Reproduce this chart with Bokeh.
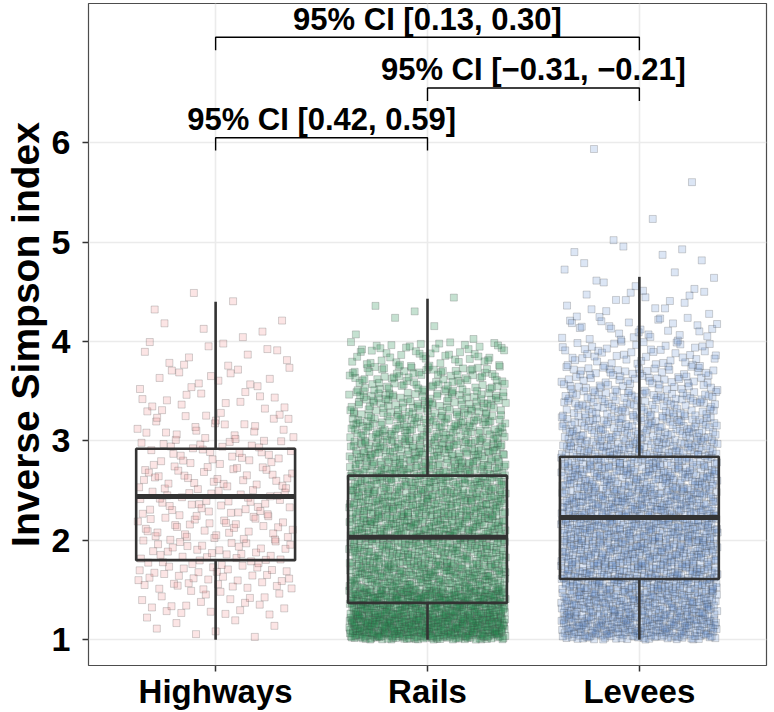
import numpy as np
from bokeh.plotting import figure
from bokeh.models import Range1d, FixedTicker, ColumnDataSource
from bokeh.core.properties import value
from bokeh.embed import file_html
from bokeh.resources import INLINE

# Groups and their positions on the x axis
groups = ["Highways", "Rails", "Levees"]
group_x = [1, 2, 3]

# Box-plot statistics of the inverse Simpson index
box_lower = [1.00, 1.00, 1.00]
box_q1 = [1.80, 1.37, 1.61]
box_median = [2.44, 2.03, 2.23]
box_q3 = [2.92, 2.65, 2.84]
box_upper = [4.40, 4.43, 4.65]

# Number of observations in each 0.25-wide band of the index, from 1.0 upward
band_start = 1.0
band_width = 0.25
highways_counts = [8, 22, 36, 36, 36, 36, 34, 30, 24, 18, 14, 12, 5, 3]
rails_counts = [420, 340, 220, 190, 200, 190, 170, 150, 130, 110, 85, 50, 4, 3]
levees_counts = [230, 210, 200, 200, 200, 190, 170, 150, 125, 100, 75, 50,
                 30, 16, 8, 6, 2, 0, 1, 1]

# Pairwise comparisons shown as brackets
ci_from = [1, 2, 1]
ci_to = [2, 3, 3]
ci_level = [6.05, 6.55, 7.06]
ci_labels = ["95% CI [0.42, 0.59]",
             "95% CI [\u22120.31, \u22120.21]",
             "95% CI [0.13, 0.30]"]

y_ticks = [1, 2, 3, 4, 5, 6]

point_fill = ["#ee7b7b", "#1f8a4c", "#4f80cc"]
point_alpha = [0.2, 0.26, 0.2]
FONT = "Liberation Sans"
JITTER = 0.37
BRACKET_DROP = 0.13
Y_MIN, Y_MAX = 0.74, 7.40


def radical_inverse(n, base):
    q, denom = 0.0, 1.0
    while n:
        n, r = divmod(n, base)
        denom *= base
        q += r / denom
    return q


def band_cloud(center, counts):
    """Spread each band's observations across the band (Halton jitter layout)."""
    xs, ys = [], []
    k = 1
    for i, c in enumerate(counts):
        lo = band_start + i * band_width
        for _ in range(c):
            xs.append(center + (radical_inverse(k, 2) - 0.5) * 2 * JITTER)
            ys.append(lo + radical_inverse(k, 3) * band_width)
            k += 1
    return xs, ys


p = figure(width=774, height=712,
           x_range=Range1d(0.4, 3.6), y_range=Range1d(Y_MIN, Y_MAX),
           output_backend="svg", toolbar_location=None,
           min_border_left=87, min_border_right=8,
           min_border_top=3, min_border_bottom=42)
p.background_fill_color = "white"
p.border_fill_color = "white"
p.outline_line_color = "#4d4d4d"
p.outline_line_width = 1.2

# jittered observations
for gx, counts, col, a in zip(group_x, [highways_counts, rails_counts, levees_counts],
                              point_fill, point_alpha):
    xs, ys = band_cloud(gx, counts)
    p.scatter(xs, ys, marker="square", size=7,
              fill_color=col, fill_alpha=a,
              line_color="#444444", line_alpha=0.23, line_width=1)

# box plots
box = ColumnDataSource(dict(x=group_x, lower=box_lower, q1=box_q1,
                            med=box_median, q3=box_q3, upper=box_upper,
                            left=[x - 0.375 for x in group_x],
                            right=[x + 0.375 for x in group_x]))
p.segment(x0="x", y0="q3", x1="x", y1="upper", source=box,
          line_color="#333333", line_width=2.6)
p.segment(x0="x", y0="lower", x1="x", y1="q1", source=box,
          line_color="#333333", line_width=2.6)
p.vbar(x="x", bottom="q1", top="q3", width=0.75, source=box,
       fill_color=None, line_color="#333333", line_width=2.6)
p.segment(x0="left", y0="med", x1="right", y1="med", source=box,
          line_color="#333333", line_width=5)

# comparison brackets
bx = [[a, a, b, b] for a, b in zip(ci_from, ci_to)]
by = [[h - BRACKET_DROP, h, h, h - BRACKET_DROP] for h in ci_level]
p.multi_line(xs=bx, ys=by, line_color="black", line_width=1.4)
p.text(x=[(a + b) / 2 for a, b in zip(ci_from, ci_to)], y=ci_level, text=ci_labels,
       text_font=value(FONT), text_font_style="bold", text_font_size="31px",
       text_color="black", text_align="center", text_baseline="alphabetic",
       y_offset=-18)

# axes
p.xaxis.ticker = FixedTicker(ticks=group_x)
p.xaxis.major_label_overrides = {x: g for x, g in zip(group_x, groups)}
p.yaxis.ticker = FixedTicker(ticks=y_ticks)
p.yaxis.axis_label = "Inverse Simpson index"
for ax in (p.xaxis, p.yaxis):
    ax.axis_line_color = None
    ax.major_tick_line_color = "#333333"
    ax.major_tick_line_width = 1.5
    ax.major_tick_out = 6
    ax.major_tick_in = 0
    ax.minor_tick_line_color = None
    ax.major_label_text_font = FONT
    ax.major_label_text_font_style = "bold"
    ax.major_label_text_color = "black"
p.xaxis.major_label_text_font_size = "33px"
p.xaxis.major_label_standoff = 1
p.yaxis.major_label_text_font_size = "34px"
p.yaxis.major_label_standoff = 12
p.yaxis.axis_label_text_font = FONT
p.yaxis.axis_label_text_font_style = "bold"
p.yaxis.axis_label_text_font_size = "39px"
p.yaxis.axis_label_text_color = "black"
p.yaxis.axis_label_standoff = 2

p.xgrid.ticker = FixedTicker(ticks=group_x)
p.ygrid.ticker = FixedTicker(ticks=y_ticks)
p.grid.grid_line_color = "#ebebeb"
p.grid.grid_line_width = 1.6
p.grid.level = "underlay"

open("out.html", "w").write(file_html(p, INLINE))
